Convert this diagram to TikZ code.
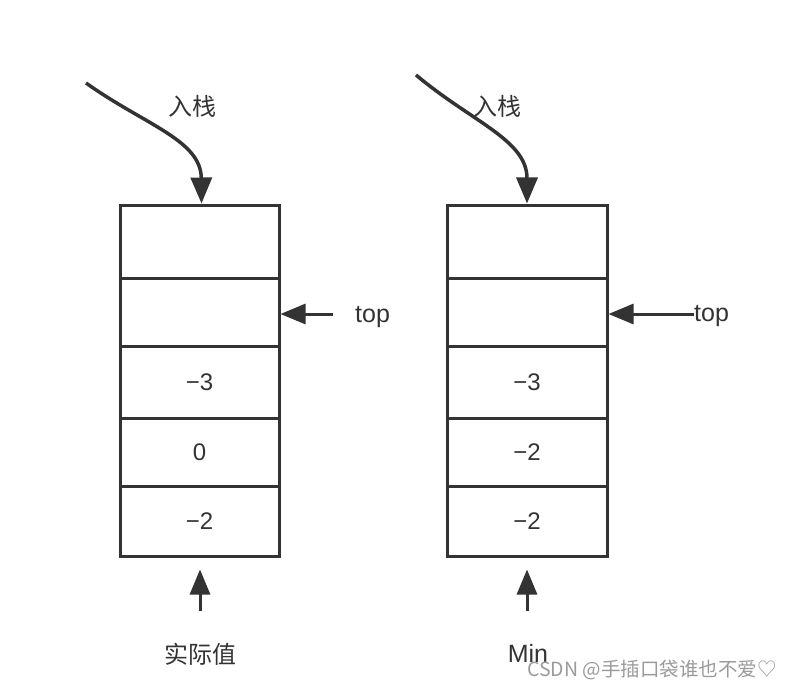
\documentclass[tikz,border=0pt]{standalone}
\usepackage{fontspec}
\setmainfont{Liberation Sans}
\newfontfamily\cjk{Noto Sans CJK SC}
\usetikzlibrary{arrows.meta}
\definecolor{ink}{HTML}{333333}
\definecolor{wm}{HTML}{9A9A9A}
\tikzset{
  cell/.style={draw=ink, line width=3pt, minimum width=#1, inner sep=0pt, font=\fontsize{24}{24}\selectfont, text=ink},
  arr/.style={draw=ink, line width=3pt, -{Triangle[length=25pt,width=20pt]}},
  curvearr/.style={draw=ink, line width=3.5pt, -{Triangle[length=26pt,width=21pt]}},
  lbl/.style={font=\fontsize{25}{25}\selectfont, text=ink, inner sep=0pt},
  cjklbl/.style={font=\cjk\fontsize{24}{24}\selectfont, text=ink, inner sep=0pt},
}
\begin{document}
\begin{tikzpicture}[x=1pt,y=-1pt]
\useasboundingbox (0,0) rectangle (790,690);
% left stack
\node[cell=159pt, minimum height=73pt] (L1) at (199.5,241.5) {};
\node[cell=159pt, minimum height=68pt] (L2) at (199.5,312) {};
\node[cell=159pt, minimum height=72pt] (L3) at (199.5,382) {−3};
\node[cell=159pt, minimum height=68pt] (L4) at (199.5,452) {0};
\node[cell=159pt, minimum height=70pt] (L5) at (199.5,521) {−2};
% right stack
\node[cell=160pt, minimum height=73pt] (R1) at (527,241.5) {};
\node[cell=160pt, minimum height=68pt] (R2) at (527,312) {};
\node[cell=160pt, minimum height=72pt] (R3) at (527,382) {−3};
\node[cell=160pt, minimum height=68pt] (R4) at (527,452) {−2};
\node[cell=160pt, minimum height=70pt] (R5) at (527,521) {−2};
% push labels and curves
\node[cjklbl] (lpush) at (192,106) {入栈};
\node[cjklbl] (rpush) at (497,106) {入栈};
\coordinate (lcs) at (86,83);
\coordinate (rcs) at (416,75);
\draw[curvearr] (lcs) .. controls (145,125) and (201,140) .. ([xshift=2pt]L1.north);
\draw[curvearr] (rcs) .. controls (472,122) and (527,140) .. (R1.north);
% top labels and arrows
\node[lbl, anchor=west] (ltop) at (355,317) {top};
\node[lbl, anchor=west] (rtop) at (694,316) {top};
\coordinate (lts) at (333,314);
\draw[arr] (lts) -- (lts -| L2.east);
\draw[arr] (rtop.west |- lts) -- (lts -| R2.east);
% bottom arrows and labels
\coordinate (lbs) at (200,611);
\coordinate (rbs) at (527,611);
\draw[arr] (lbs) -- ([yshift=-12pt]L5.south -| lbs);
\draw[arr] (rbs) -- ([yshift=-12pt]R5.south -| rbs);
\node[cjklbl] (lval) at (200,654) {实际值};
\node[lbl] (rmin) at (528,653) {Min};
% watermark
\node[font=\cjk\fontsize{19.5}{19.5}\selectfont, text=wm, inner sep=0pt] (wmk) at (652,670) {CSDN @手插口袋谁也不爱♡};
\end{tikzpicture}
\end{document}
